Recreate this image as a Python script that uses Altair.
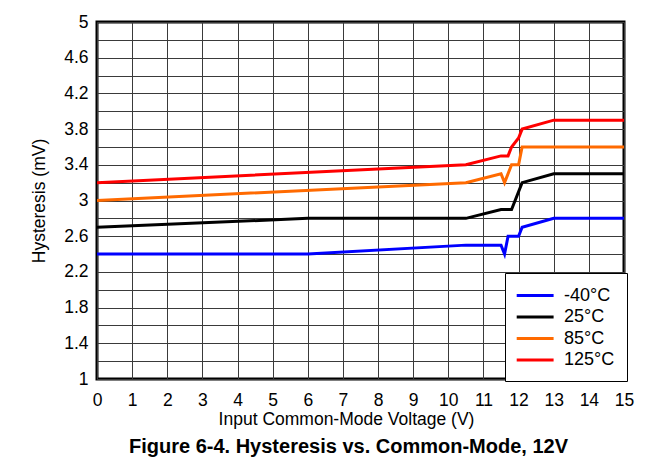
import altair as alt
import pandas as pd

series_names = ["-40°C", "25°C", "85°C", "125°C"]
series_colors = ["#0000FF", "#000000", "#FF6A00", "#FF0000"]

blue_x = [0, 6, 10.5, 11.5, 11.6, 11.7, 12.0, 12.1, 13, 15]
blue_y = [2.4, 2.4, 2.5, 2.5, 2.4, 2.6, 2.6, 2.7, 2.8, 2.8]
black_x = [0, 6, 10.5, 11.5, 11.8, 12.1, 13, 15]
black_y = [2.7, 2.8, 2.8, 2.9, 2.9, 3.2, 3.3, 3.3]
orange_x = [0, 10.5, 11.5, 11.6, 11.8, 12.0, 12.1, 15]
orange_y = [3.0, 3.2, 3.3, 3.2, 3.4, 3.4, 3.6, 3.6]
red_x = [0, 10.5, 11.5, 11.7, 11.8, 12.0, 12.1, 13, 15]
red_y = [3.2, 3.4, 3.5, 3.5, 3.6, 3.7, 3.8, 3.9, 3.9]

x_ticks = list(range(0, 16))
y_ticks = [round(1 + 0.2 * i, 1) for i in range(21)]

rows = []
for name, xs, ys in zip(series_names,
                        [blue_x, black_x, orange_x, red_x],
                        [blue_y, black_y, orange_y, red_y]):
    for i, (xv, yv) in enumerate(zip(xs, ys)):
        rows.append({"series": name, "x": xv, "y": yv, "i": i})
df = pd.DataFrame(rows)

FONT = "Liberation Sans"

chart = alt.Chart(df).mark_line(strokeWidth=3, clip=True).encode(
    x=alt.X("x:Q",
            scale=alt.Scale(domain=[0, 15], nice=False, zero=False),
            axis=alt.Axis(values=x_ticks, title="Input Common-Mode Voltage (V)",
                          ticks=False, domain=False, labelPadding=12,
                          titlePadding=2, labelFontSize=17.5, titleFontSize=17.5,
                          labelFont=FONT, titleFont=FONT, titleFontWeight="normal",
                          labelColor="black", titleColor="black",
                          titleX=249, titleAlign="center",
                          grid=True, gridColor="#3a3a3a", gridWidth=1,
                          labelFlush=False)),
    y=alt.Y("y:Q",
            scale=alt.Scale(domain=[1, 5], nice=False, zero=False),
            axis=alt.Axis(values=y_ticks, title="Hysteresis (mV)",
                          labelExpr="abs(round((datum.value-1)/0.4) - (datum.value-1)/0.4) < 0.01 ? format(datum.value, '.1~f') : ''",
                          ticks=False, domain=False, labelPadding=9,
                          titlePadding=15, labelFontSize=17.5, titleFontSize=17.5,
                          labelFont=FONT, titleFont=FONT, titleFontWeight="normal",
                          labelColor="black", titleColor="black",
                          grid=True, gridColor="#3a3a3a", gridWidth=1,
                          labelFlush=False)),
    color=alt.Color("series:N",
                    scale=alt.Scale(domain=series_names, range=series_colors),
                    legend=alt.Legend(title=None, orient="none", legendX=408, legendY=251,
                                      symbolType="M-1.2,0L2.9,0", symbolSize=324,
                                      symbolStrokeWidth=3, labelFontSize=18,
                                      labelFont=FONT, labelColor="black",
                                      labelOffset=26, rowPadding=1.5, padding=12,
                                      fillColor="white", strokeColor="black")),
    order="i:Q",
).properties(
    width=527,
    height=357,
    autosize=alt.AutoSizeParams(type="none"),
    padding={"left": 89, "top": 14, "right": 32, "bottom": 85},
    title=alt.TitleParams("Figure 6-4. Hysteresis vs. Common-Mode, 12V",
                          orient="bottom", anchor="middle", fontSize=20,
                          fontWeight="bold", font=FONT, color="black",
                          offset=9, dx=-12),
).configure_view(stroke="black", strokeWidth=3)

chart.save("out.html", embed_options={"renderer": "svg", "actions": False})
